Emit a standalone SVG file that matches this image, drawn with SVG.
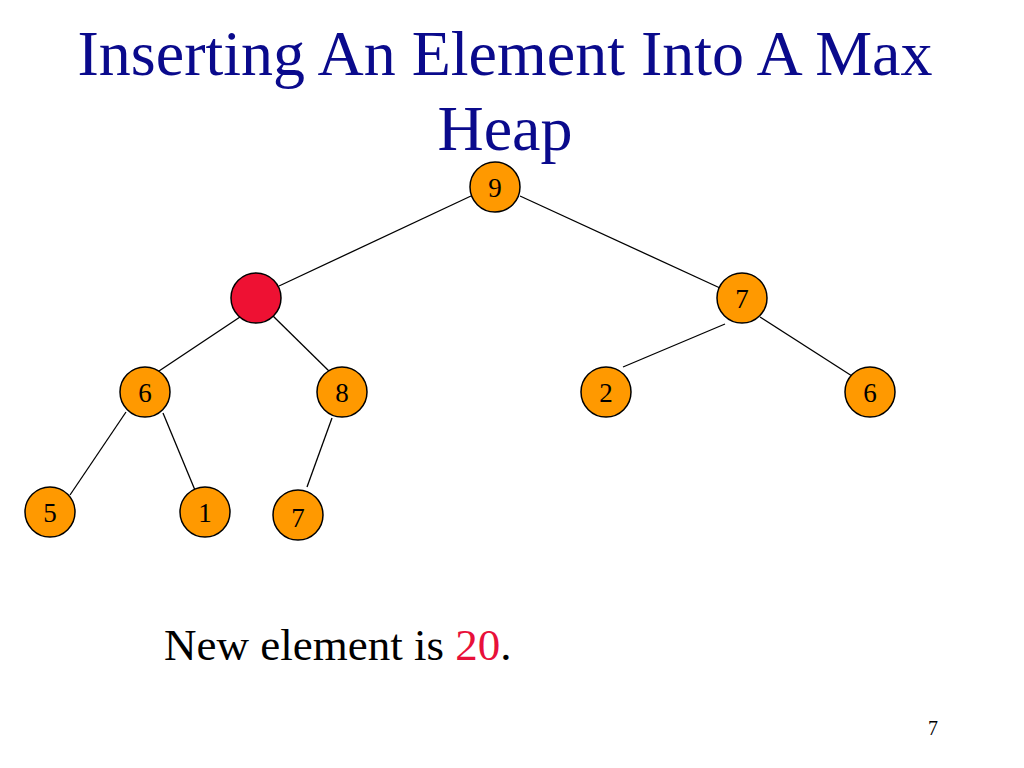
<svg xmlns="http://www.w3.org/2000/svg" width="1024" height="768" viewBox="0 0 1024 768">
<style>
.n{fill:#FF9900;stroke:#000;stroke-width:1.5}
.r{fill:#EE1133;stroke:#000;stroke-width:1.5}
.t{font-family:"Liberation Serif",serif;font-size:27px;fill:#000;text-anchor:middle}
.e line{stroke:#000;stroke-width:1.3}
.title{font-family:"Liberation Serif",serif;font-size:64px;fill:#0A0A8C;text-anchor:middle}
.body{font-family:"Liberation Serif",serif;font-size:45px;fill:#000}
.pg{font-family:"Liberation Serif",serif;font-size:20px;fill:#000;text-anchor:middle}
</style>
<rect width="1024" height="768" fill="#fff"/>
<text class="title" x="505" y="75">Inserting An Element Into A Max</text>
<text class="title" x="505" y="150">Heap</text>
<g class="e" id="edges">
<line x1="471" y1="196" x2="279" y2="286"/>
<line x1="520" y1="196" x2="720" y2="288"/>
<line x1="240" y1="317" x2="153" y2="375"/>
<line x1="273" y1="316" x2="332" y2="374"/>
<line x1="725" y1="324" x2="623" y2="367"/>
<line x1="760" y1="317" x2="852" y2="376"/>
<line x1="126" y1="412" x2="70" y2="495"/>
<line x1="163" y1="413" x2="197" y2="495"/>
<line x1="332" y1="418" x2="307" y2="487"/>
</g>
<g id="n9"><circle class="n" cx="495" cy="187" r="25"/><text class="t" x="495" y="197">9</text></g>
<g id="nred"><circle class="r" cx="256" cy="298" r="25"/></g>
<g id="n7a"><circle class="n" cx="742" cy="298" r="25"/><text class="t" x="742" y="308">7</text></g>
<g id="n6a"><circle class="n" cx="145" cy="392" r="25"/><text class="t" x="145" y="402">6</text></g>
<g id="n8"><circle class="n" cx="342" cy="392" r="25"/><text class="t" x="342" y="402">8</text></g>
<g id="n2"><circle class="n" cx="606" cy="392" r="25"/><text class="t" x="606" y="402">2</text></g>
<g id="n6b"><circle class="n" cx="870" cy="392" r="25"/><text class="t" x="870" y="402">6</text></g>
<g id="n5"><circle class="n" cx="50" cy="512" r="25"/><text class="t" x="50" y="522">5</text></g>
<g id="n1"><circle class="n" cx="205" cy="512" r="25"/><text class="t" x="205" y="522">1</text></g>
<g id="n7b"><circle class="n" cx="298" cy="515" r="25"/><text class="t" x="298" y="527">7</text></g>
<text class="body" x="164" y="660">New element is <tspan fill="#E8103A">20</tspan>.</text>
<text class="pg" x="933" y="735">7</text>
</svg>
